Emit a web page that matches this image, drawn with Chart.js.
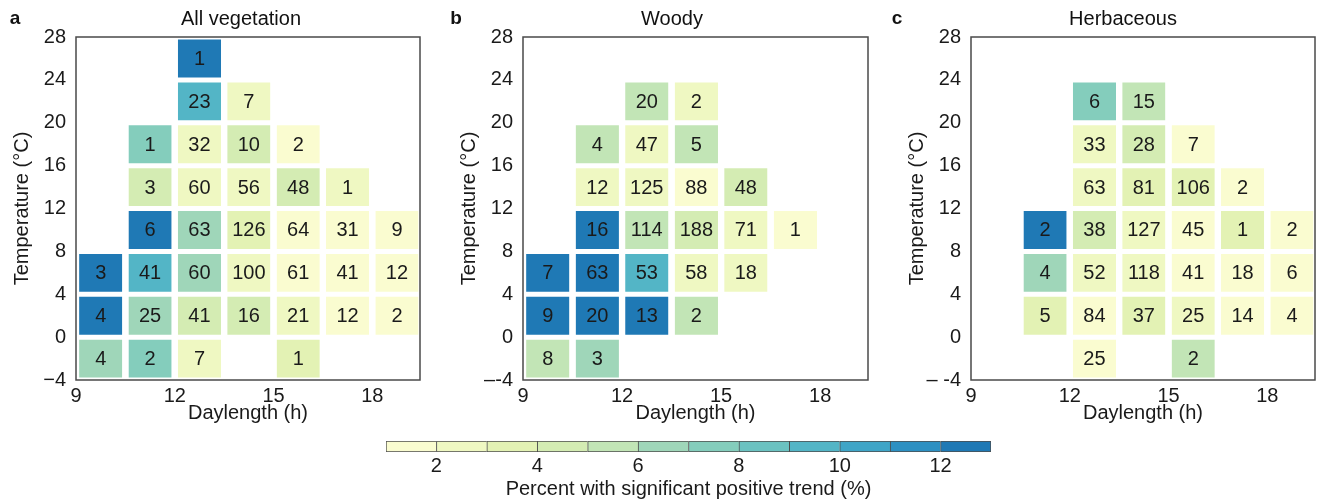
<!DOCTYPE html>
<html>
<head>
<meta charset="utf-8">
<script src="https://cdn.jsdelivr.net/npm/chart.js@4.4.1/dist/chart.umd.min.js"></script>
<style>
  html, body { margin: 0; padding: 0; background: #fff; }
  #wrap { position: relative; width: 1318px; height: 504px; overflow: hidden; }
  canvas { position: absolute; }
</style>
</head>
<body>
<div id="wrap">
  <canvas id="panelA" width="424" height="425" style="left:0;top:0"></canvas>
  <canvas id="panelB" width="425" height="425" style="left:447px;top:0"></canvas>
  <canvas id="panelC" width="433" height="425" style="left:885px;top:0"></canvas>
  <canvas id="colorbar" width="625" height="73" style="left:376px;top:431px"></canvas>
</div>
<script>
// bins: lower edges of daylength columns (h) and temperature rows (°C, top row first)
const dayStarts = [9, 10.5, 12, 13.5, 15, 16.5, 18];
const tempStarts = [24, 20, 16, 12, 8, 4, 0, -4];
const dayTicks = [9, 12, 15, 18];
const tempTicks = [-4, 0, 4, 8, 12, 16, 20, 24, 28];
const cbEdges = [1, 2, 3, 4, 5, 6, 7, 8, 9, 10, 11, 12, 13];
const cbTicks = [2, 4, 6, 8, 10, 12];

const _ = null;
// a - all vegetation: number of sites per cell
const allCounts = [
  [_, _, 1, _, _, _, _],
  [_, _, 23, 7, _, _, _],
  [_, 1, 32, 10, 2, _, _],
  [_, 3, 60, 56, 48, 1, _],
  [_, 6, 63, 126, 64, 31, 9],
  [3, 41, 60, 100, 61, 41, 12],
  [4, 25, 41, 16, 21, 12, 2],
  [4, 2, 7, _, 1, _, _]
];
// percent with significant positive trend
const allPct = [
  [_, _, 12.5, _, _, _, _],
  [_, _, 9.5, 2.5, _, _, _],
  [_, 7.5, 2.5, 4.5, 1.5, _, _],
  [_, 4.2, 2.5, 2.5, 4.5, 2.2, _],
  [_, 12.5, 6.5, 3.5, 1.3, 1.4, 1.5],
  [12.5, 9.5, 6.5, 2.2, 1.4, 1.2, 1.4],
  [12.5, 6.3, 4.2, 4.8, 2.2, 1.4, 1.7],
  [6.2, 7.5, 2.2, _, 3.2, _, _]
];

// b - woody
const woodyCounts = [
  [_, _, _, _, _, _, _],
  [_, _, 20, 2, _, _, _],
  [_, 4, 47, 5, _, _, _],
  [_, 12, 125, 88, 48, _, _],
  [_, 16, 114, 188, 71, 1, _],
  [7, 63, 53, 58, 18, _, _],
  [9, 20, 13, 2, _, _, _],
  [8, 3, _, _, _, _, _]
];
const woodyPct = [
  [_, _, _, _, _, _, _],
  [_, _, 5.3, 2.5, _, _, _],
  [_, 5.3, 2.2, 5.3, _, _, _],
  [_, 2.8, 2.5, 1.8, 4.6, _, _],
  [_, 12.5, 5.2, 4.0, 2.2, 1.2, _],
  [12.5, 12.5, 9.5, 2.0, 2.2, _, _],
  [12.5, 12.5, 12.2, 5.2, _, _, _],
  [5.2, 6.3, _, _, _, _, _]
];

// c - herbaceous
const herbCounts = [
  [_, _, _, _, _, _, _],
  [_, _, 6, 15, _, _, _],
  [_, _, 33, 28, 7, _, _],
  [_, _, 63, 81, 106, 2, _],
  [_, 2, 38, 127, 45, 1, 2],
  [_, 4, 52, 118, 41, 18, 6],
  [_, 5, 84, 37, 25, 14, 4],
  [_, _, 25, _, 2, _, _]
];
const herbPct = [
  [_, _, _, _, _, _, _],
  [_, _, 7.3, 5.2, _, _, _],
  [_, _, 2.3, 4.8, 1.6, _, _],
  [_, _, 2.3, 3.5, 3.9, 1.5, _],
  [_, 12.5, 4.8, 2.3, 1.5, 3.5, 1.6],
  [_, 6.3, 2.2, 2.2, 1.4, 1.5, 1.6],
  [_, 3.3, 1.2, 3.5, 2.2, 1.4, 1.6],
  [_, _, 1.4, _, 5.2, _, _]
];

const cbColors = ['#fafcd0', '#eff8c2', '#e3f2b4', '#d4ecb3', '#c2e5b6', '#9fd6b9',
                  '#84cdbc', '#6bc2c1', '#53b5c6', '#3fa5c7', '#2d90c2', '#1f79b5'];

const FONT = '"Liberation Sans", Arial, sans-serif';
Chart.defaults.font.family = FONT;
Chart.defaults.color = '#1a1a1a';

function colorFor(p) {
  let i = Math.floor(p) - cbEdges[0];
  i = Math.max(0, Math.min(cbColors.length - 1, i));
  return cbColors[i];
}

function cellsFor(counts, pct) {
  const pts = [], cols = [], labels = [];
  tempStarts.forEach((t, r) => dayStarts.forEach((d, c) => {
    const n = counts[r][c];
    if (n === null) return;
    pts.push({ x: d + 0.75, y: [t, t + 4] });
    cols.push(colorFor(pct[r][c]));
    labels.push(n);
  }));
  return { pts, cols, labels };
}

const panelText = {
  id: 'panelText',
  afterDatasetsDraw(chart, args, opts) {
    const { ctx, chartArea: a } = chart;
    const meta = chart.getDatasetMeta(0);
    const counts = chart.data.datasets[0].counts;
    ctx.save();
    ctx.font = '20px ' + FONT;
    ctx.fillStyle = '#1a1a1a';
    ctx.textAlign = 'center';
    ctx.textBaseline = 'middle';
    meta.data.forEach((bar, i) => {
      const p = bar.getCenterPoint();
      ctx.fillText(String(counts[i]), p.x, p.y + 1);
    });
    ctx.strokeStyle = '#4a4a4a';
    ctx.lineWidth = 1.5;
    ctx.strokeRect(a.left, a.top, a.right - a.left, a.bottom - a.top);
    ctx.restore();
  },
  afterDraw(chart, args, opts) {
    const ctx = chart.ctx;
    ctx.save();
    ctx.fillStyle = '#111';
    ctx.textAlign = 'center';
    ctx.textBaseline = 'middle';
    ctx.font = 'bold 19px ' + FONT;
    ctx.fillText(opts.letter, opts.letterX, 19);
    ctx.font = '20px ' + FONT;
    ctx.fillText(opts.title, opts.titleX, 19);
    ctx.restore();
  }
};

function makePanel(id, counts, pct, cfg) {
  const cells = cellsFor(counts, pct);
  return new Chart(document.getElementById(id), {
    type: 'bar',
    data: {
      datasets: [{
        data: cells.pts,
        counts: cells.labels,
        backgroundColor: cells.cols,
        borderColor: '#ffffff',
        borderWidth: { top: 2.5, bottom: 2.5, left: 0, right: 0 },
        borderSkipped: false,
        barPercentage: 0.875,
        categoryPercentage: 1
      }]
    },
    options: {
      responsive: false, animation: false, events: [],
      layout: { padding: { top: 37, right: cfg.padRight, bottom: 0, left: cfg.padLeft } },
      plugins: {
        legend: { display: false }, tooltip: { enabled: false },
        panelText: { letter: cfg.letter, letterX: cfg.letterX, title: cfg.title, titleX: cfg.titleX }
      },
      scales: {
        x: {
          type: 'linear', min: 9, max: 19.45, offset: false,
          grid: { display: false, drawTicks: false, offset: false }, border: { display: false },
          afterBuildTicks: s => { s.ticks = dayTicks.map(v => ({ value: v })); },
          afterFit: s => { s.height = 45; },
          ticks: { padding: 4, font: { size: 20 }, maxRotation: 0, autoSkip: false },
          title: { display: true, text: 'Daylength (h)', font: { size: 20 }, padding: 0 }
        },
        y: {
          type: 'linear', min: -4, max: 28,
          grid: { display: false, drawTicks: false }, border: { display: false },
          afterBuildTicks: s => { s.ticks = tempTicks.map(v => ({ value: v })); },
          afterFit: s => { s.width = 76; },
          ticks: { padding: 10, font: { size: 20 }, autoSkip: false,
                   callback: v => v < 0 ? cfg.negLabel : String(v) },
          title: { display: true, text: 'Temperature (°C)', font: { size: 20 }, padding: { top: 10, bottom: 0 } }
        }
      }
    },
    plugins: [panelText]
  });
}

makePanel('panelA', allCounts, allPct,
  { letter: 'a', letterX: 15, title: 'All vegetation', titleX: 241, negLabel: '\u22124', padLeft: 0, padRight: 4 });
makePanel('panelB', woodyCounts, woodyPct,
  { letter: 'b', letterX: 9, title: 'Woody', titleX: 225, negLabel: '\u2013-4', padLeft: 0, padRight: 4 });
makePanel('panelC', herbCounts, herbPct,
  { letter: 'c', letterX: 12, title: 'Herbaceous', titleX: 238, negLabel: '\u2013 -4', padLeft: 10, padRight: 3 });

// colour bar
new Chart(document.getElementById('colorbar'), {
  type: 'bar',
  data: {
    labels: ['pct'],
    datasets: [{
      data: cbColors.map((c, i) => ({ x: [cbEdges[i], cbEdges[i + 1]], y: 'pct' })),
      backgroundColor: cbColors,
      borderColor: '#4d4d4d',
      borderWidth: c => ({ top: 1, bottom: 1, left: 1, right: c.dataIndex === cbColors.length - 1 ? 1 : 0 }),
      borderSkipped: false,
      barPercentage: 1,
      categoryPercentage: 1
    }]
  },
  options: {
    indexAxis: 'y',
    responsive: false, animation: false, events: [],
    layout: { padding: { top: 10, left: 10, right: 10, bottom: 0 } },
    plugins: { legend: { display: false }, tooltip: { enabled: false } },
    scales: {
      x: {
        type: 'linear', min: 1, max: 13,
        grid: { display: false, drawTicks: false }, border: { display: false },
        afterBuildTicks: s => { s.ticks = cbTicks.map(v => ({ value: v })); },
        afterFit: s => { s.height = 52; },
        ticks: { padding: 4, font: { size: 20, lineHeight: 1 }, maxRotation: 0, autoSkip: false },
        title: { display: true, text: 'Percent with significant positive trend (%)', font: { size: 20 },
                 padding: { top: 0, bottom: 3 } }
      },
      y: { display: false }
    }
  }
});
</script>
</body>
</html>
